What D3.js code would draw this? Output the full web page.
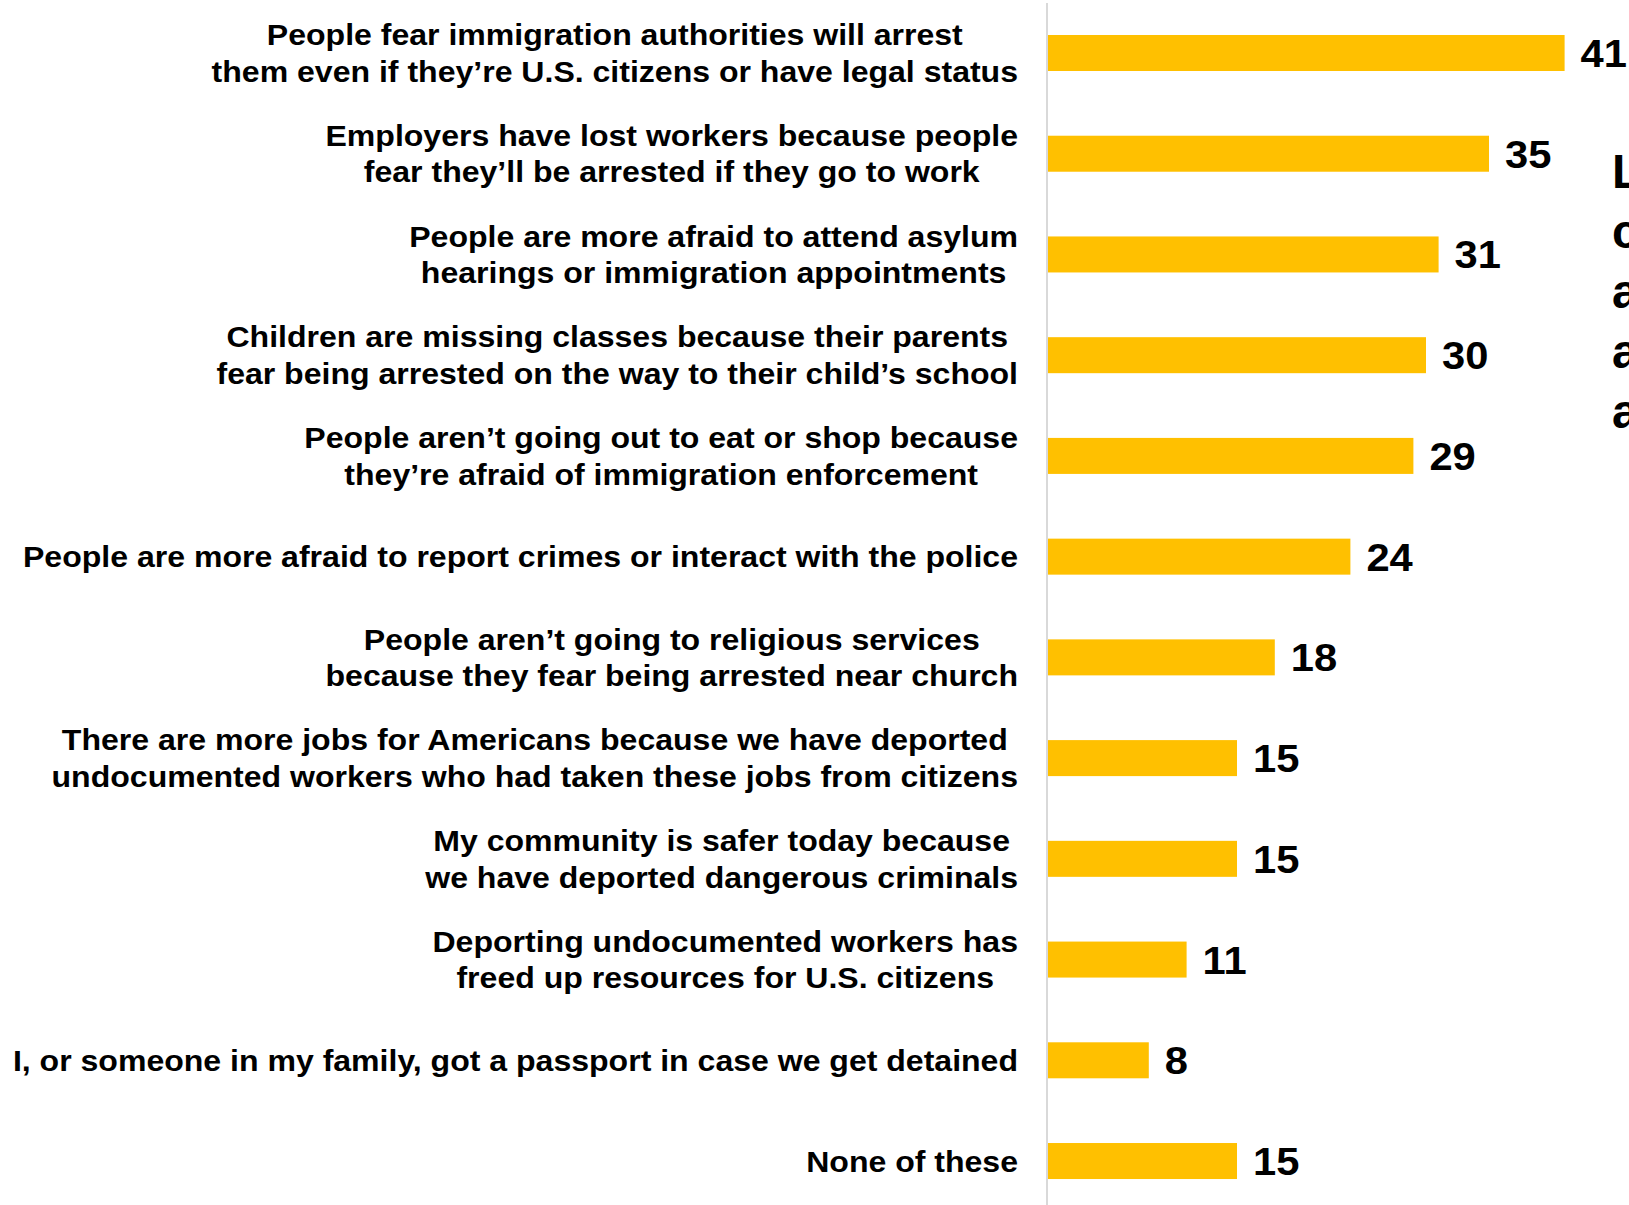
<!DOCTYPE html>
<html>
<head>
<meta charset="utf-8">
<script src="https://cdn.jsdelivr.net/npm/d3@7"></script>
<style>
  html, body { margin: 0; padding: 0; background: #fff; overflow: hidden; }
  svg { display: block; }
</style>
</head>
<body>
<svg id="chart" width="1629" height="1205"></svg>
<script>
const categories = [
  ["People fear immigration authorities will arrest", "them even if they\u2019re U.S. citizens or have legal status"],
  ["Employers have lost workers because people", "fear they\u2019ll be arrested if they go to work"],
  ["People are more afraid to attend asylum", "hearings or immigration appointments"],
  ["Children are missing classes because their parents", "fear being arrested on the way to their child\u2019s school"],
  ["People aren\u2019t going out to eat or shop because", "they\u2019re afraid of immigration enforcement"],
  ["People are more afraid to report crimes or interact with the police"],
  ["People aren\u2019t going to religious services", "because they fear being arrested near church"],
  ["There are more jobs for Americans because we have deported", "undocumented workers who had taken these jobs from citizens"],
  ["My community is safer today because", "we have deported dangerous criminals"],
  ["Deporting undocumented workers has", "freed up resources for U.S. citizens"],
  ["I, or someone in my family, got a passport in case we get detained"],
  ["None of these"]
];
const values = [41, 35, 31, 30, 29, 24, 18, 15, 15, 11, 8, 15];
const sideText = ["L", "c", "a", "a", "a"];

const svg = d3.select("#chart");
const FONT = "'Liberation Sans', Arimo, Arial, Helvetica, sans-serif";
const ids = categories.map((c, i) => i);

const y = d3.scaleBand()
  .domain(ids)
  .range([2.63, 2.63 + 12 * 100.73])
  .paddingInner(0.6426)
  .paddingOuter(0.3213);

const x = d3.scaleLinear().domain([0, 41]).range([1048, 1048 + 41 * 12.6]);

// axis line
svg.append("line")
  .attr("x1", 1047).attr("x2", 1047)
  .attr("y1", 3).attr("y2", 1205)
  .attr("stroke", "#d9d9d9").attr("stroke-width", 2);

// bars
svg.selectAll("rect.bar")
  .data(values)
  .join("rect")
  .attr("class", "bar")
  .attr("x", x(0))
  .attr("y", (d, i) => y(i))
  .attr("width", d => x(d) - x(0))
  .attr("height", y.bandwidth())
  .attr("fill", "#FFC000");

// value labels (slightly widened glyphs as in the reference)
const VS = 1.07;
svg.selectAll("text.val")
  .data(values)
  .join("text")
  .attr("class", "val")
  .attr("transform", d => `translate(${x(d) + 16},0) scale(${VS},1)`)
  .attr("x", 0)
  .attr("y", (d, i) => y(i) + y.bandwidth() / 2 + 14)
  .attr("font-family", FONT)
  .attr("font-weight", "bold")
  .attr("font-size", 39)
  .attr("fill", "#000")
  .text(d => d);

// category labels (horizontally stretched like the reference)
const LH = 36.5, RIGHT = 1018, FS = 29, HS = 1.105;
categories.forEach((lines, i) => {
  const cy = y(i) + y.bandwidth() / 2;
  const g = svg.append("g").attr("class", "cat")
    .attr("transform", `translate(${RIGHT},0) scale(${HS},1)`);
  const texts = lines.map((ln, j) => g.append("text")
    .attr("font-family", FONT)
    .attr("font-weight", "bold")
    .attr("font-size", FS)
    .attr("fill", "#000")
    .attr("text-anchor", "middle")
    .attr("y", cy + 10.5 + (j - (lines.length - 1) / 2) * LH)
    .text(ln));
  const maxW = d3.max(texts, t => t.node().getComputedTextLength());
  texts.forEach(t => t.attr("x", -maxW / 2));
});

// side text cut off at the right edge, as in the reference
svg.selectAll("text.side")
  .data(sideText)
  .join("text")
  .attr("class", "side")
  .attr("x", 1612)
  .attr("y", (d, i) => 188 + i * 60)
  .attr("font-family", FONT)
  .attr("font-weight", "bold")
  .attr("font-size", 48)
  .attr("fill", "#000")
  .text(d => d);
</script>
</body>
</html>
